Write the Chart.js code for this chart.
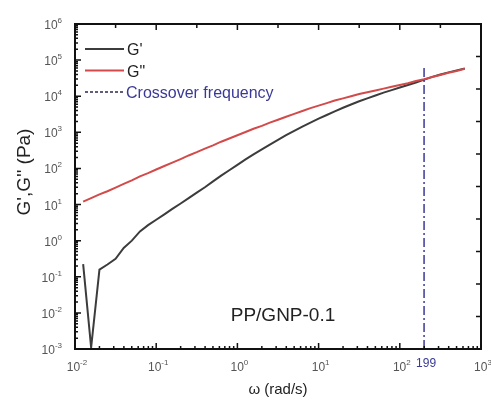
<!DOCTYPE html>
<html>
<head>
<meta charset="utf-8">
<script src="https://cdn.jsdelivr.net/npm/chart.js@4.4.0/dist/chart.umd.min.js"></script>
<style>
  body { margin: 0; background: #fff; }
</style>
</head>
<body>
<canvas id="myChart" width="491" height="410"></canvas>
<script>
// angular frequency (rad/s)
const freq = [
  0.0126, 0.0158, 0.02, 0.0251, 0.0316, 0.0398, 0.0501, 0.0631, 0.0794,
  0.1, 0.126, 0.158, 0.2, 0.251, 0.316, 0.398, 0.501, 0.631, 0.794,
  1, 1.26, 1.58, 2, 2.51, 3.16, 3.98, 5.01, 6.31, 7.94,
  10, 12.6, 15.8, 20, 25.1, 31.6, 39.8, 50.1, 63.1, 79.4,
  100, 126, 158, 200, 251, 316, 398, 501, 631
];

// storage modulus G' (Pa)
const gPrime = [
  0.224, 0.0011, 0.158, 0.219, 0.316, 0.63, 1.0, 1.8, 2.69,
  3.8, 5.37, 7.59, 10.7, 15.1, 21.4, 30.2, 43.7, 63.1, 89.1,
  126, 178, 245, 339, 457, 617, 832, 1096, 1445, 1862,
  2399, 3020, 3802, 4786, 5888, 7244, 8710, 10470, 12590, 14790,
  17380, 20420, 23990, 28840, 34280, 39810, 45710, 51880, 58880
];

// loss modulus G'' (Pa)
const gDoublePrime = [
  12.0, 15.1, 19.1, 23.4, 29.5, 37.2, 46.8, 60.3, 74.1,
  93.3, 117, 145, 182, 229, 282, 355, 437, 550, 676,
  832, 1023, 1259, 1514, 1862, 2239, 2692, 3236, 3890, 4677,
  5495, 6457, 7586, 8710, 10000, 11480, 12880, 14450, 16220, 18200,
  20420, 22910, 26300, 29510, 33880, 38900, 44670, 50120, 57540
];

const crossoverFreq = 199;
const crossoverSpan = [0.001, 66000];

const xTicks = [0.01, 0.1, 1, 10, 100, 1000];
const xTickExp = ['-2', '-1', '0', '1', '2', '3'];
const yTicks = [0.001, 0.01, 0.1, 1, 10, 100, 1000, 10000, 100000, 1000000];
const yTickExp = ['-3', '-2', '-1', '0', '1', '2', '3', '4', '5', '6'];

const FONT = "'Liberation Sans', Arial, sans-serif";
const BLUE = '#3a3a96';

function pts(xs, ys) {
  return xs.map((v, i) => ({ x: v, y: ys[i] }));
}

function drawPow(ctx, exp, x, y, align) {
  ctx.font = '12px ' + FONT;
  const wb = ctx.measureText('10').width;
  ctx.font = '8px ' + FONT;
  const we = ctx.measureText(exp).width;
  let x0 = align === 'right' ? x - wb - we : x - (wb + we) / 2;
  ctx.textAlign = 'left';
  ctx.font = '12px ' + FONT;
  ctx.fillText('10', x0, y);
  ctx.font = '8px ' + FONT;
  ctx.fillText(exp, x0 + wb, y - 6);
}

const decor = {
  id: 'decor',
  afterDatasetsDraw(chart) {
    const { ctx, chartArea: a, scales: { x, y } } = chart;
    ctx.save();

    // frame
    ctx.strokeStyle = '#111';
    ctx.lineWidth = 2;
    ctx.strokeRect(a.left, a.top, a.right - a.left, a.bottom - a.top);

    ctx.lineWidth = 1.5;
    ctx.beginPath();
    // bottom axis: decades + minors, top axis: decades + half decades
    xTicks.forEach((d, i) => {
      const px = x.getPixelForValue(d);
      ctx.moveTo(px, a.bottom); ctx.lineTo(px, a.bottom - 6);
      ctx.moveTo(px, a.top); ctx.lineTo(px, a.top + 6);
      if (i < xTicks.length - 1) {
        for (let m = 2; m <= 9; m++) {
          const pm = x.getPixelForValue(d * m);
          ctx.moveTo(pm, a.bottom); ctx.lineTo(pm, a.bottom - 3);
        }
        const ph = x.getPixelForValue(d * 3.162);
        ctx.moveTo(ph, a.top); ctx.lineTo(ph, a.top + 4);
      }
    });
    // left axis
    yTicks.forEach((d, i) => {
      const py = y.getPixelForValue(d);
      ctx.moveTo(a.left, py); ctx.lineTo(a.left + 6, py);
      if (i < yTicks.length - 1) {
        for (let m = 2; m <= 9; m++) {
          const pm = y.getPixelForValue(d * m);
          ctx.moveTo(a.left, pm); ctx.lineTo(a.left + 3, pm);
        }
      }
    });
    // right axis
    for (let k = 1; k < 10; k++) {
      const py = a.top + k * (a.bottom - a.top) / 10;
      ctx.moveTo(a.right, py); ctx.lineTo(a.right - 5, py);
    }
    ctx.stroke();

    // tick labels
    ctx.fillStyle = '#555';
    ctx.textBaseline = 'alphabetic';
    xTicks.forEach((d, i) => drawPow(ctx, xTickExp[i], x.getPixelForValue(d) + 2, a.bottom + 22, 'center'));
    yTicks.forEach((d, i) => drawPow(ctx, yTickExp[i], a.left - 13, y.getPixelForValue(d) + 5, 'right'));

    // crossover value
    ctx.fillStyle = BLUE;
    ctx.font = '12px ' + FONT;
    ctx.textAlign = 'center';
    ctx.fillText(String(crossoverFreq), x.getPixelForValue(crossoverFreq) + 2, a.bottom + 18);

    // axis titles
    ctx.fillStyle = '#222';
    ctx.font = '15px ' + FONT;
    ctx.fillText('ω (rad/s)', (a.left + a.right) / 2, a.bottom + 45);
    ctx.save();
    ctx.translate(30, 172);
    ctx.rotate(-Math.PI / 2);
    ctx.font = '19px ' + FONT;
    ctx.fillText("G',G'' (Pa)", 0, 0);
    ctx.restore();

    // sample label
    ctx.font = '19px ' + FONT;
    ctx.fillText('PP/GNP-0.1', 283, 321);

    // legend
    const items = chart.data.datasets;
    ctx.textAlign = 'left';
    ctx.font = '16px ' + FONT;
    items.forEach((ds, i) => {
      const ly = 49 + i * 21.5;
      ctx.strokeStyle = i === 2 ? '#2a2a50' : ds.borderColor;
      ctx.lineWidth = i === 2 ? 1.3 : 2;
      ctx.setLineDash(i === 2 ? [3, 2] : []);
      ctx.beginPath();
      ctx.moveTo(85, ly); ctx.lineTo(i === 2 ? 125 : 124, ly);
      ctx.stroke();
      ctx.setLineDash([]);
      ctx.fillStyle = i === 2 ? BLUE : '#222';
      ctx.fillText(ds.label, i === 2 ? 126 : 127, ly + 6);
    });
    ctx.restore();
  }
};

new Chart(document.getElementById('myChart'), {
  type: 'scatter',
  data: {
    datasets: [
      {
        label: "G'",
        data: pts(freq, gPrime),
        showLine: true,
        borderColor: '#3c3c3c',
        borderWidth: 2,
        pointRadius: 0,
        order: 2
      },
      {
        label: 'G"',
        data: pts(freq, gDoublePrime),
        showLine: true,
        borderColor: '#d24a4a',
        borderWidth: 2,
        pointRadius: 0,
        order: 1
      },
      {
        label: 'Crossover frequency',
        data: pts([crossoverFreq, crossoverFreq], crossoverSpan),
        showLine: true,
        borderColor: BLUE,
        borderWidth: 1.5,
        borderDash: [9, 3, 2, 3],
        pointRadius: 0,
        order: 0
      }
    ]
  },
  options: {
    responsive: false,
    devicePixelRatio: 1,
    animation: false,
    layout: { padding: { left: 75, right: 10, top: 24, bottom: 61 } },
    plugins: { legend: { display: false }, tooltip: { enabled: false } },
    scales: {
      x: { type: 'logarithmic', min: 0.01, max: 1000, display: false },
      y: { type: 'logarithmic', min: 0.001, max: 1000000, display: false }
    }
  },
  plugins: [decor]
});
</script>
</body>
</html>
